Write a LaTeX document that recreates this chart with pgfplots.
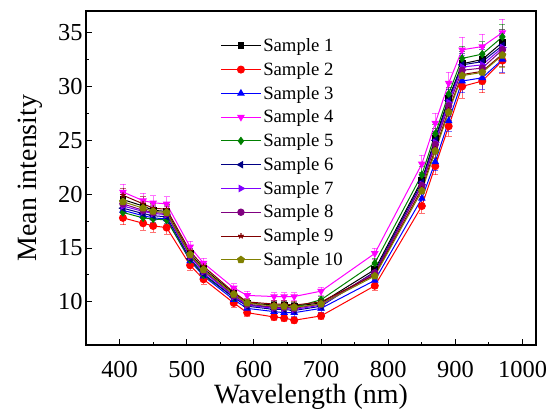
\documentclass[border=0pt]{standalone}
\usepackage{fontspec}
\setmainfont{Liberation Serif}
\usepackage{pgfplots}
\usepackage{pgfplotstable}
\pgfplotsset{compat=1.18}
\definecolor{cS1}{RGB}{0,0,0}
\definecolor{cS2}{RGB}{255,0,0}
\definecolor{cS3}{RGB}{0,0,255}
\definecolor{cS4}{RGB}{255,0,255}
\definecolor{cS5}{RGB}{0,128,0}
\definecolor{cS6}{RGB}{0,0,132}
\definecolor{cS7}{RGB}{128,0,255}
\definecolor{cS8}{RGB}{128,0,128}
\definecolor{cS9}{RGB}{128,0,0}
\definecolor{cS10}{RGB}{128,128,0}
\pgfplotstableread{
wl s1 s2 s3 s4 s5 s6 s7 s8 s9 s10
405 19.5 17.8 18.5 20.2 18.3 18.7 18.9 19.1 19.9 19.3
435 18.9 17.3 18.0 19.4 17.8 18.2 18.4 18.5 19.1 18.7
450 18.5 17.05 17.8 19.2 17.7 18.0 18.2 18.3 18.7 18.4
470 18.4 16.9 17.7 19.1 17.6 17.9 18.1 18.2 18.6 18.3
505 14.5 13.4 13.8 15.1 13.9 14.0 14.2 14.3 14.7 14.4
525 13.1 12.1 12.4 13.6 12.5 12.6 12.8 12.9 13.3 13.0
570 10.8 9.9 10.2 11.3 10.4 10.4 10.5 10.6 10.9 10.7
590 9.9 9.0 9.4 10.6 9.7 9.6 9.7 9.8 10.0 9.9
630 9.7 8.6 9.1 10.5 9.5 9.3 9.4 9.5 9.8 9.6
645 9.7 8.5 9.0 10.5 9.5 9.3 9.4 9.5 9.8 9.6
660 9.6 8.3 9.0 10.5 9.5 9.2 9.3 9.4 9.7 9.5
700 9.9 8.7 9.4 11.0 10.2 9.6 9.7 9.8 10.0 9.8
780 13.0 11.5 12.0 14.5 13.6 12.8 12.6 12.7 12.5 12.4
850 21.3 18.9 19.6 22.8 21.8 21.1 20.9 20.8 20.5 20.3
870 25.2 22.6 23.0 26.6 25.6 25.0 24.8 24.6 24.2 24.0
890 28.9 26.3 26.8 30.3 29.3 28.7 28.5 28.2 27.8 27.6
910 32.1 30.0 30.5 33.4 32.6 32.0 31.8 31.5 31.1 31.0
940 32.5 30.5 30.8 33.7 33.0 32.3 32.0 31.7 31.4 31.3
970 34.1 32.4 32.5 35.0 34.6 33.8 33.6 33.4 33.0 32.9
}\data
\begin{document}
\begin{tikzpicture}
\path[use as bounding box] (-86bp,-67bp) rectangle (466bp,345bp);
\begin{axis}[
  scale only axis, width=450bp, height=334bp,
  xmin=350, xmax=1020, ymin=6, ymax=37,
  xtick={400,500,...,1000}, ytick={10,15,...,35},
  minor x tick num=1, minor y tick num=1,
  tick align=inside, xtick pos=bottom, ytick pos=left,
  major tick length=6bp, minor tick length=3.5bp,
  axis line style={line width=1.2bp}, tick style={line width=1bp, black},
  /pgf/number format/assume math mode=true,
  /pgf/number format/1000 sep={},
  ticklabel style={font=\fontsize{24.5}{26}\selectfont},
  xticklabel style={yshift=-13bp},
  label style={font=\fontsize{28}{30}\selectfont},
  xlabel={Wavelength (nm)}, ylabel={Mean intensity},
  xlabel style={yshift=1bp}, ylabel style={yshift=9bp},
  legend style={at={(0.292,0.93)}, anchor=north west, draw=none, fill=none,
    font=\fontsize{18.8}{20}\selectfont, row sep=5.3bp},
  legend cell align=left,
  legend image code/.code={\draw[mark repeat=2,mark phase=2] plot coordinates {(0cm,0cm) (0.7cm,0cm) (1.4cm,0cm)};},
  every axis plot/.append style={line width=1bp, mark size=2.9bp,
    error bars/y dir=both, error bars/y fixed relative=0.035,
    error bars/error bar style={opacity=0.55, line width=0.8bp},
    error bars/error mark options={rotate=90, mark size=3bp, opacity=0.55}},
]
\addplot[cS1, mark=square*] table[x=wl,y=s1] {\data}; \addlegendentry{Sample 1}
\addplot[cS2, mark=*, mark size=3.5bp] table[x=wl,y=s2] {\data}; \addlegendentry{Sample 2}
\addplot[cS3, mark=triangle*, mark size=3.5bp] table[x=wl,y=s3] {\data}; \addlegendentry{Sample 3}
\addplot[cS4, mark=triangle*, mark options={rotate=180}, mark size=3.5bp] table[x=wl,y=s4] {\data}; \addlegendentry{Sample 4}
\addplot[cS5, mark=diamond*, mark size=3.5bp] table[x=wl,y=s5] {\data}; \addlegendentry{Sample 5}
\addplot[cS6, mark=triangle*, mark options={rotate=90}, mark size=3.5bp] table[x=wl,y=s6] {\data}; \addlegendentry{Sample 6}
\addplot[cS7, mark=triangle*, mark options={rotate=-90}, mark size=3.5bp] table[x=wl,y=s7] {\data}; \addlegendentry{Sample 7}
\addplot[cS8, mark=*, mark size=3.2bp] table[x=wl,y=s8] {\data}; \addlegendentry{Sample 8}
\addplot[cS9, mark=star, mark options={line width=1.2bp}] table[x=wl,y=s9] {\data}; \addlegendentry{Sample 9}
\addplot[cS10, mark=pentagon*, mark size=3.5bp] table[x=wl,y=s10] {\data}; \addlegendentry{Sample 10}
\end{axis}
\end{tikzpicture}
\end{document}
